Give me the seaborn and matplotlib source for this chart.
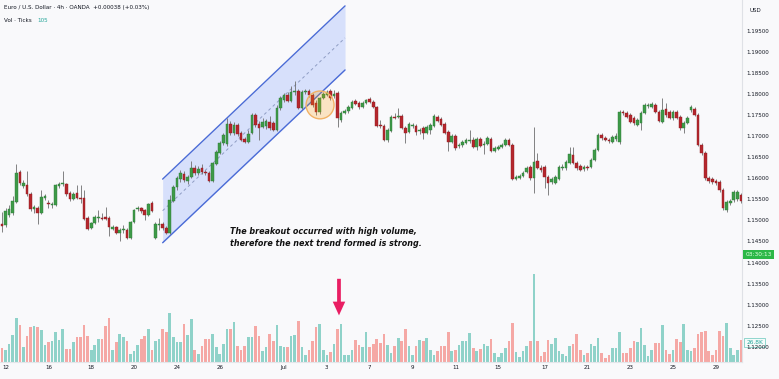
import numpy as np
import pandas as pd
import matplotlib
matplotlib.use("Agg")
import matplotlib.pyplot as plt
from matplotlib.patches import Ellipse
import seaborn as sns

# EUR/USD 4h candles (one row = 10 candles)
opens = [
    1.1491, 1.1489, 1.1513, 1.1518, 1.1544, 1.1615, 1.1582, 1.1584, 1.1563, 1.1527,
    1.1529, 1.1518, 1.1553, 1.1541, 1.1537, 1.1537, 1.1582, 1.1587, 1.1587, 1.1565,
    1.1551, 1.1565, 1.1553, 1.1553, 1.1506, 1.1482, 1.1494, 1.1506, 1.1506, 1.1508,
    1.1506, 1.1480, 1.1484, 1.1470, 1.1477, 1.1477, 1.1458, 1.1496, 1.1527, 1.1529,
    1.1525, 1.1513, 1.1541, 1.1458, 1.1489, 1.1491, 1.1482, 1.1470, 1.1546, 1.1579,
    1.1598, 1.1610, 1.1593, 1.1603, 1.1624, 1.1612, 1.1624, 1.1615, 1.1612, 1.1593,
    1.1634, 1.1660, 1.1684, 1.1681, 1.1729, 1.1707, 1.1726, 1.1707, 1.1693, 1.1686,
    1.1707, 1.1750, 1.1729, 1.1722, 1.1724, 1.1733, 1.1731, 1.1715, 1.1767, 1.1786,
    1.1798, 1.1783, 1.1805, 1.1807, 1.1767, 1.1805, 1.1807, 1.1798, 1.1779, 1.1757,
    1.1790, 1.1798, 1.1807, 1.1795, 1.1802, 1.1738, 1.1755, 1.1760, 1.1767, 1.1783,
    1.1779, 1.1769, 1.1779, 1.1788, 1.1781, 1.1769, 1.1726, 1.1724, 1.1691, 1.1712,
    1.1745, 1.1745, 1.1748, 1.1719, 1.1710, 1.1724, 1.1724, 1.1712, 1.1719, 1.1707,
    1.1715, 1.1724, 1.1745, 1.1741, 1.1729, 1.1710, 1.1686, 1.1700, 1.1677, 1.1679,
    1.1684, 1.1688, 1.1691, 1.1674, 1.1693, 1.1679, 1.1681, 1.1693, 1.1665, 1.1669,
    1.1674, 1.1679, 1.1691, 1.1679, 1.1598, 1.1601, 1.1605, 1.1615, 1.1627, 1.1601,
    1.1641, 1.1624, 1.1627, 1.1603, 1.1591, 1.1589, 1.1598, 1.1624, 1.1624, 1.1636,
    1.1655, 1.1636, 1.1629, 1.1622, 1.1627, 1.1627, 1.1643, 1.1667, 1.1703, 1.1696,
    1.1691, 1.1686, 1.1693, 1.1686, 1.1757, 1.1755, 1.1750, 1.1743, 1.1726, 1.1731,
    1.1755, 1.1772, 1.1769, 1.1774, 1.1757, 1.1733, 1.1764, 1.1757, 1.1743, 1.1757,
    1.1745, 1.1719, 1.1731, 1.1762, 1.1764, 1.1750, 1.1679, 1.1660, 1.1601, 1.1598,
    1.1593, 1.1591, 1.1572, 1.1525, 1.1541, 1.1548, 1.1551, 1.1560]
closes = [
    1.1487, 1.1522, 1.1527, 1.1546, 1.1612, 1.1589, 1.1589, 1.1563, 1.1527, 1.1532,
    1.1518, 1.1556, 1.1558, 1.1539, 1.1539, 1.1584, 1.1587, 1.1589, 1.1563, 1.1551,
    1.1563, 1.1553, 1.1551, 1.1503, 1.1480, 1.1494, 1.1508, 1.1508, 1.1503, 1.1503,
    1.1484, 1.1484, 1.1470, 1.1477, 1.1480, 1.1458, 1.1496, 1.1525, 1.1529, 1.1522,
    1.1513, 1.1539, 1.1522, 1.1491, 1.1491, 1.1482, 1.1470, 1.1548, 1.1579, 1.1601,
    1.1612, 1.1596, 1.1603, 1.1624, 1.1612, 1.1622, 1.1615, 1.1612, 1.1593, 1.1636,
    1.1662, 1.1684, 1.1703, 1.1729, 1.1707, 1.1726, 1.1705, 1.1691, 1.1686, 1.1705,
    1.1750, 1.1726, 1.1719, 1.1733, 1.1736, 1.1719, 1.1715, 1.1767, 1.1790, 1.1798,
    1.1783, 1.1805, 1.1807, 1.1767, 1.1805, 1.1807, 1.1798, 1.1774, 1.1757, 1.1790,
    1.1800, 1.1805, 1.1790, 1.1800, 1.1743, 1.1755, 1.1760, 1.1769, 1.1781, 1.1776,
    1.1769, 1.1779, 1.1786, 1.1781, 1.1769, 1.1724, 1.1724, 1.1691, 1.1715, 1.1745,
    1.1743, 1.1748, 1.1719, 1.1707, 1.1729, 1.1726, 1.1710, 1.1715, 1.1707, 1.1722,
    1.1726, 1.1748, 1.1736, 1.1726, 1.1707, 1.1686, 1.1700, 1.1672, 1.1679, 1.1686,
    1.1691, 1.1691, 1.1674, 1.1693, 1.1677, 1.1681, 1.1696, 1.1665, 1.1672, 1.1674,
    1.1679, 1.1691, 1.1679, 1.1598, 1.1603, 1.1605, 1.1612, 1.1624, 1.1601, 1.1639,
    1.1624, 1.1620, 1.1603, 1.1589, 1.1598, 1.1603, 1.1627, 1.1627, 1.1639, 1.1658,
    1.1636, 1.1624, 1.1620, 1.1627, 1.1624, 1.1643, 1.1667, 1.1703, 1.1696, 1.1691,
    1.1688, 1.1698, 1.1700, 1.1757, 1.1755, 1.1745, 1.1733, 1.1731, 1.1738, 1.1755,
    1.1774, 1.1774, 1.1776, 1.1757, 1.1736, 1.1762, 1.1750, 1.1743, 1.1757, 1.1743,
    1.1719, 1.1731, 1.1743, 1.1769, 1.1750, 1.1679, 1.1660, 1.1601, 1.1593, 1.1591,
    1.1589, 1.1572, 1.1529, 1.1544, 1.1546, 1.1567, 1.1567, 1.1546]
highs = [
    1.1520, 1.1529, 1.1537, 1.1558, 1.1634, 1.1620, 1.1596, 1.1617, 1.1567, 1.1537,
    1.1534, 1.1572, 1.1563, 1.1548, 1.1544, 1.1587, 1.1591, 1.1617, 1.1589, 1.1570,
    1.1567, 1.1584, 1.1584, 1.1572, 1.1510, 1.1496, 1.1513, 1.1525, 1.1518, 1.1532,
    1.1510, 1.1489, 1.1487, 1.1482, 1.1489, 1.1482, 1.1499, 1.1527, 1.1534, 1.1532,
    1.1527, 1.1541, 1.1546, 1.1496, 1.1506, 1.1496, 1.1487, 1.1560, 1.1584, 1.1605,
    1.1620, 1.1617, 1.1608, 1.1641, 1.1631, 1.1629, 1.1634, 1.1620, 1.1617, 1.1639,
    1.1667, 1.1688, 1.1707, 1.1743, 1.1736, 1.1733, 1.1731, 1.1712, 1.1698, 1.1715,
    1.1755, 1.1755, 1.1736, 1.1743, 1.1741, 1.1748, 1.1736, 1.1774, 1.1795, 1.1802,
    1.1805, 1.1819, 1.1831, 1.1812, 1.1809, 1.1812, 1.1812, 1.1802, 1.1786, 1.1793,
    1.1805, 1.1809, 1.1812, 1.1809, 1.1807, 1.1760, 1.1764, 1.1774, 1.1786, 1.1788,
    1.1783, 1.1783, 1.1788, 1.1793, 1.1786, 1.1772, 1.1738, 1.1729, 1.1719, 1.1750,
    1.1755, 1.1767, 1.1752, 1.1724, 1.1733, 1.1731, 1.1729, 1.1719, 1.1724, 1.1726,
    1.1731, 1.1752, 1.1750, 1.1745, 1.1733, 1.1715, 1.1705, 1.1705, 1.1684, 1.1691,
    1.1696, 1.1715, 1.1698, 1.1698, 1.1698, 1.1688, 1.1700, 1.1698, 1.1677, 1.1679,
    1.1684, 1.1696, 1.1696, 1.1684, 1.1608, 1.1610, 1.1617, 1.1629, 1.1631, 1.1722,
    1.1660, 1.1631, 1.1631, 1.1608, 1.1603, 1.1608, 1.1631, 1.1634, 1.1643, 1.1674,
    1.1674, 1.1641, 1.1634, 1.1631, 1.1631, 1.1648, 1.1672, 1.1707, 1.1707, 1.1700,
    1.1696, 1.1703, 1.1707, 1.1762, 1.1762, 1.1760, 1.1755, 1.1748, 1.1743, 1.1760,
    1.1779, 1.1779, 1.1781, 1.1779, 1.1762, 1.1790, 1.1779, 1.1762, 1.1762, 1.1762,
    1.1750, 1.1736, 1.1748, 1.1774, 1.1769, 1.1755, 1.1684, 1.1665, 1.1605, 1.1603,
    1.1598, 1.1596, 1.1577, 1.1548, 1.1551, 1.1572, 1.1572, 1.1565]
lows = [
    1.1472, 1.1484, 1.1508, 1.1513, 1.1541, 1.1584, 1.1577, 1.1558, 1.1522, 1.1518,
    1.1491, 1.1515, 1.1548, 1.1529, 1.1529, 1.1534, 1.1577, 1.1582, 1.1558, 1.1546,
    1.1548, 1.1551, 1.1541, 1.1501, 1.1477, 1.1480, 1.1491, 1.1496, 1.1501, 1.1501,
    1.1463, 1.1477, 1.1468, 1.1451, 1.1470, 1.1456, 1.1456, 1.1494, 1.1522, 1.1518,
    1.1501, 1.1510, 1.1520, 1.1456, 1.1477, 1.1477, 1.1468, 1.1468, 1.1544, 1.1572,
    1.1591, 1.1591, 1.1587, 1.1601, 1.1608, 1.1608, 1.1610, 1.1608, 1.1591, 1.1591,
    1.1631, 1.1658, 1.1679, 1.1677, 1.1703, 1.1703, 1.1700, 1.1688, 1.1684, 1.1684,
    1.1705, 1.1722, 1.1691, 1.1719, 1.1717, 1.1715, 1.1712, 1.1712, 1.1762, 1.1781,
    1.1781, 1.1781, 1.1798, 1.1764, 1.1764, 1.1800, 1.1793, 1.1769, 1.1750, 1.1752,
    1.1788, 1.1795, 1.1786, 1.1790, 1.1722, 1.1733, 1.1752, 1.1755, 1.1764, 1.1774,
    1.1764, 1.1767, 1.1776, 1.1779, 1.1767, 1.1722, 1.1719, 1.1688, 1.1686, 1.1710,
    1.1741, 1.1743, 1.1717, 1.1684, 1.1707, 1.1719, 1.1703, 1.1705, 1.1693, 1.1705,
    1.1705, 1.1722, 1.1733, 1.1724, 1.1705, 1.1665, 1.1684, 1.1667, 1.1672, 1.1674,
    1.1681, 1.1684, 1.1672, 1.1667, 1.1674, 1.1658, 1.1679, 1.1662, 1.1662, 1.1667,
    1.1672, 1.1677, 1.1677, 1.1596, 1.1596, 1.1598, 1.1603, 1.1612, 1.1596, 1.1565,
    1.1622, 1.1615, 1.1577, 1.1560, 1.1587, 1.1587, 1.1596, 1.1620, 1.1620, 1.1634,
    1.1634, 1.1620, 1.1617, 1.1617, 1.1620, 1.1624, 1.1641, 1.1665, 1.1691, 1.1688,
    1.1684, 1.1684, 1.1688, 1.1681, 1.1750, 1.1743, 1.1731, 1.1726, 1.1724, 1.1715,
    1.1752, 1.1767, 1.1767, 1.1755, 1.1733, 1.1731, 1.1745, 1.1741, 1.1738, 1.1741,
    1.1715, 1.1707, 1.1729, 1.1757, 1.1748, 1.1677, 1.1655, 1.1596, 1.1589, 1.1587,
    1.1584, 1.1567, 1.1525, 1.1520, 1.1537, 1.1544, 1.1546, 1.1541]
# tick volume in thousands
volumes = [
    17, 14, 22, 33, 54, 45, 18, 32, 43, 44,
    42, 39, 21, 24, 25, 37, 27, 40, 16, 16,
    24, 30, 30, 45, 31, 14, 21, 28, 28, 44,
    54, 14, 24, 34, 30, 25, 10, 13, 21, 28,
    31, 40, 15, 25, 28, 40, 37, 60, 30, 24,
    24, 46, 33, 52, 15, 10, 19, 28, 28, 34,
    18, 10, 22, 40, 40, 49, 19, 14, 19, 30,
    30, 44, 32, 13, 18, 34, 26, 45, 19, 18,
    18, 32, 33, 50, 18, 8, 15, 26, 42, 46,
    14, 8, 12, 22, 40, 46, 9, 9, 15, 27,
    21, 18, 36, 18, 22, 28, 23, 34, 21, 11,
    19, 29, 25, 40, 20, 9, 19, 27, 26, 29,
    15, 9, 13, 20, 19, 36, 13, 14, 21, 26,
    26, 35, 17, 13, 16, 22, 19, 28, 11, 6,
    11, 17, 25, 48, 12, 6, 13, 19, 26, 107,
    26, 7, 12, 27, 22, 29, 13, 10, 7, 19,
    22, 34, 14, 9, 11, 22, 20, 29, 11, 5,
    9, 17, 17, 36, 11, 11, 17, 25, 24, 41,
    21, 7, 15, 23, 23, 45, 15, 10, 15, 28,
    24, 46, 14, 13, 17, 34, 37, 38, 13, 8,
    15, 38, 32, 47, 17, 8, 15, 26.8]

tick_labels = ["12", "16", "18", "20", "24", "26", "Jul", "3", "7", "9",
               "11", "15", "17", "21", "23", "25", "29"]
tick_idx = [1, 13, 25, 37, 49, 61, 79, 91, 103, 115, 127, 139, 152, 164, 176, 188, 200]
price_ticks = np.round(np.arange(1.120, 1.1951, 0.005), 3)

# drawings on the chart (candle index, price)
chan_x = [45.0, 96.1]
chan_upper = [1.1598, 1.2009]
chan_lower = [1.1447, 1.1857]
chan_mid = [1.1523, 1.1933]
circle_center = (89.1, 1.1774)
arrow_x = 94.4
arrow_from, arrow_to = 1.1368, 1.1268
note = "The breakout occurred with high volume,\ntherefore the next trend formed is strong."

df = pd.DataFrame({"open": opens, "high": highs, "low": lows,
                   "close": closes, "volume": volumes})
df["idx"] = np.arange(len(df))
df["dir"] = np.where(df["close"] >= df["open"], "up", "down")

sns.set_theme(style="white")
plt.rcParams["font.family"] = ["DejaVu Sans"]

bg = "#f9f9fb"
fig = plt.figure(figsize=(7.79, 3.79), dpi=100, facecolor=bg)
rect = [0, 17 / 379, 742 / 779, 362 / 379]
ax_vol = fig.add_axes(rect)
ax = fig.add_axes(rect, sharex=ax_vol)
ax.patch.set_visible(False)
ax_vol.set_facecolor(bg)

# volume bars
sns.barplot(data=df, x="idx", y="volume", hue="dir",
            palette={"up": "#8fd2c9", "down": "#f5a8a5"}, saturation=1,
            dodge=False, native_scale=True, width=0.74, errorbar=None,
            legend=False, edgecolor="none", linewidth=0, ax=ax_vol)
ax_vol.set_ylim(0, 440)
ax_vol.set_yticks([])
ax_vol.set_xlabel("")
ax_vol.set_ylabel("")

# candles
up = df["dir"] == "up"
body_col = np.where(up, "#3e9a48", "#b5272d")
edge_col = np.where(up, "#2d7a36", "#8e1c22")
ax.vlines(df["idx"], df["low"], df["high"], color="#6e6e6e", lw=0.6, zorder=2)
body_h = (df["close"] - df["open"]).abs().clip(lower=0.00012)
ax.bar(df["idx"], body_h, bottom=np.minimum(df["open"], df["close"]),
       width=0.74, color=body_col, edgecolor=edge_col, linewidth=0.3, zorder=3)

# channel
ax.fill_between(chan_x, chan_lower, chan_upper, color="#2962ff", alpha=0.16, lw=0, zorder=1)
ax.plot(chan_x, chan_upper, color="#4a6bd6", lw=1, zorder=1.5)
ax.plot(chan_x, chan_lower, color="#4a6bd6", lw=1, zorder=1.5)
ax.plot(chan_x, chan_mid, color="#8f9dc4", lw=0.7, ls=(0, (3, 3)), zorder=1.5)

ax.add_patch(Ellipse(circle_center, width=7.84, height=0.0066, facecolor="#ff9800",
                     alpha=0.22, edgecolor="none", zorder=4))
ax.add_patch(Ellipse(circle_center, width=7.84, height=0.0066, facecolor="none",
                     edgecolor="#f2b266", lw=1, zorder=4))

ax.annotate("", xy=(arrow_x, arrow_to), xytext=(arrow_x, arrow_from),
            arrowprops=dict(arrowstyle="simple,head_length=1.1,head_width=1.0,tail_width=0.3",
                            color="#e91e63", lw=0, mutation_scale=9))

ax.text(63.9, 1.1485, note, fontsize=5.8, fontweight="bold", fontstyle="italic",
        color="#111111", va="top", ha="left", linespacing=1.4)

# axes styling
ax.set_xlim(-0.56, 207.3)
ax.set_ylim(1.1164, 1.2023)
ax.yaxis.tick_right()
ax.set_yticks(price_ticks)
ax.set_yticklabels([f"{p:.5f}" for p in price_ticks])
ax.tick_params(axis="y", labelsize=4, length=0, pad=3, colors="#131722")
ax.tick_params(axis="x", labelbottom=False, length=0)
ax_vol.set_xticks(tick_idx)
ax_vol.set_xticklabels(tick_labels)
ax_vol.tick_params(axis="x", labelsize=4, length=0, pad=2.5, colors="#131722")
for a in (ax, ax_vol):
    for s in ("top", "left"):
        a.spines[s].set_visible(False)
ax.spines["right"].set_visible(False)
ax.spines["bottom"].set_visible(False)
ax_vol.spines["right"].set_color("#dfe1e6")
ax_vol.spines["bottom"].set_color("#e4e6ea")
ax_vol.spines["right"].set_linewidth(0.8)
ax_vol.spines["bottom"].set_linewidth(0.8)

# price scale labels
ax.text(1.005, 1.1419, "03:30:13", transform=ax.get_yaxis_transform(), fontsize=4.2,
        color="#e3ffe3", ha="left", va="center", zorder=6, clip_on=False,
        bbox=dict(boxstyle="square,pad=0.4", fc="#2cb847", ec="none"))
ax_vol.text(1.006, 24, "26.8K", transform=ax_vol.get_yaxis_transform(), fontsize=4.2,
            color="#26a69a", ha="left", va="center", zorder=6, clip_on=False,
            bbox=dict(boxstyle="square,pad=0.35", fc="#f4fbfa", ec="#7fcfc6", lw=0.6))
fig.text(749 / 779, 1 - 10 / 379, "USD", fontsize=4, color="#131722", va="center")

# legend header
fig.text(4 / 779, 1 - 7 / 379, "Euro / U.S. Dollar · 4h · OANDA  +0.00038 (+0.03%)",
         fontsize=4.1, color="#131722", va="center")
fig.text(4 / 779, 1 - 20 / 379, "Vol · Ticks", fontsize=4.1, color="#131722", va="center")
fig.text(37 / 779, 1 - 20 / 379, "105", fontsize=4.1, color="#26a69a", va="center")

fig.savefig("out.png", dpi=100, facecolor=bg)
